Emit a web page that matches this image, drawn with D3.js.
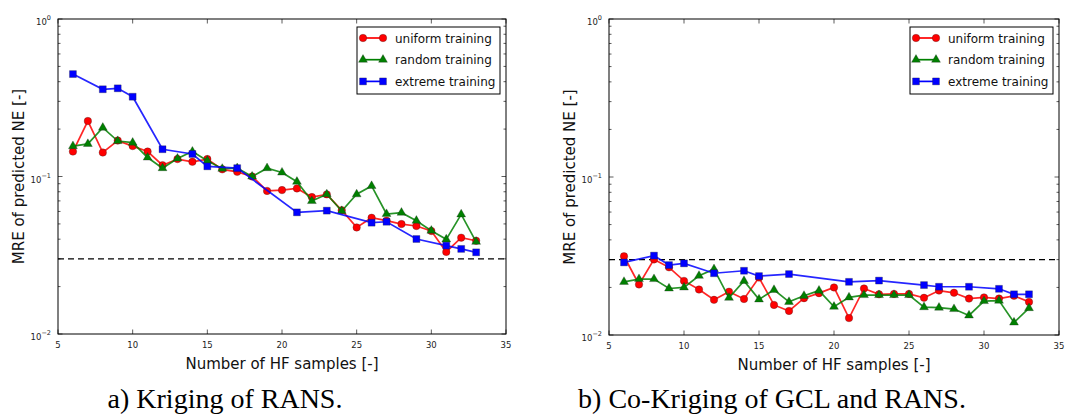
<!DOCTYPE html>
<html lang="en">
<head>
  <meta charset="UTF-8">
  <title>MRE of predicted NE vs number of HF samples</title>
  <script src="https://d3js.org/d3.v7.min.js"></script>
  <style>
    body {
      margin: 0;
      background: white;
    }
    .tick-label {
      font-family: 'DejaVu Sans', sans-serif;
      font-size: 8.5px;
      fill: #222;
    }
    .axis-title {
      font-family: 'DejaVu Sans', sans-serif;
      font-size: 15px;
      fill: #111;
    }
    .legend-text {
      font-family: 'DejaVu Sans', sans-serif;
      font-size: 12px;
      fill: #111;
    }
    .caption {
      font-family: 'Liberation Serif', 'Times New Roman', serif;
      font-size: 28px;
      fill: black;
      text-anchor: middle;
    }
  </style>
</head>
<body>
  <svg width="1078" height="415"></svg>

  <script>
    // x values
    const hfSamples = [6, 7, 8, 9, 10, 11, 12, 13, 14, 15, 16, 17, 18, 19, 20,
      21, 22, 23, 24, 25, 26, 27, 28, 29, 30, 31, 32, 33];
    const extremeSamples = [6, 8, 9, 10, 12, 14, 15, 17, 21, 23, 26, 27, 29, 31, 32, 33];

    // a) Kriging of RANS
    const krigUniform = [0.144, 0.225, 0.142, 0.169, 0.156, 0.144, 0.118, 0.129, 0.124, 0.129,
      0.111, 0.107, 0.100, 0.081, 0.082, 0.084, 0.074, 0.077, 0.061, 0.0475,
      0.0547, 0.0524, 0.0499, 0.0485, 0.0451, 0.0332, 0.0409, 0.0391];
    const krigRandom = [0.156, 0.161, 0.204, 0.168, 0.164, 0.132, 0.113, 0.130, 0.144, 0.126,
      0.112, 0.113, 0.100, 0.113, 0.106, 0.0927, 0.0699, 0.0771, 0.0604, 0.0771,
      0.0871, 0.0578, 0.0589, 0.0524, 0.0453, 0.0399, 0.0575, 0.0385];
    const krigExtreme = [0.447, 0.358, 0.363, 0.321, 0.149, 0.139, 0.116, 0.113,
      0.0592, 0.0607, 0.0509, 0.0516, 0.0401, 0.0364, 0.0347, 0.0330];

    // b) Co-Kriging of GCL and RANS
    const cokrigUniform = [0.0315, 0.0209, 0.0301, 0.0268, 0.0220, 0.0194, 0.0167, 0.0188, 0.0169, 0.0231,
      0.0155, 0.0142, 0.0171, 0.0184, 0.0200, 0.0128, 0.0197, 0.0181, 0.0182, 0.0182,
      0.0172, 0.0191, 0.0185, 0.0170, 0.0173, 0.0170, 0.0177, 0.0162];
    const cokrigRandom = [0.0217, 0.0226, 0.0226, 0.0197, 0.0200, 0.0237, 0.0261, 0.0172, 0.0220, 0.0168,
      0.0193, 0.0162, 0.0177, 0.0191, 0.0151, 0.0173, 0.0179, 0.0179, 0.0179, 0.0179,
      0.0150, 0.0149, 0.0146, 0.0133, 0.0164, 0.0165, 0.0120, 0.0148];
    const cokrigExtreme = [0.0288, 0.0318, 0.0277, 0.0284, 0.0246, 0.0255, 0.0236, 0.0243,
      0.0217, 0.0221, 0.0207, 0.0202, 0.0202, 0.0196, 0.0181, 0.0181];

    const seriesNames = ["uniform training", "random training", "extreme training"];
    const xTicks = [5, 10, 15, 20, 25, 30, 35];
    const yDecades = [-2, -1, 0];
    const threshold = 0.03;
    const captions = ["a) Kriging of RANS.", "b) Co-Kriging of GCL and RANS."];
    const xTitle = "Number of HF samples [-]";
    const yTitle = "MRE of predicted NE [-]";

    const colors = ["#ff0000", "#008000", "#0000ff"];
    const shapes = [d3.symbolCircle, d3.symbolTriangle, d3.symbolSquare];
    const shapeSize = [44, 34, 48];

    const svg = d3.select("svg");

    const panels = [
      {left: 58, right: 506, top: 19, bottom: 334, caption: captions[0], captionX: 225,
        series: [[hfSamples, krigUniform], [hfSamples, krigRandom], [extremeSamples, krigExtreme]]},
      {left: 609, right: 1059, top: 19, bottom: 335, caption: captions[1], captionX: 772,
        series: [[hfSamples, cokrigUniform], [hfSamples, cokrigRandom], [extremeSamples, cokrigExtreme]]}
    ];

    function marker(sel, i) {
      sel.attr("d", d3.symbol().type(shapes[i]).size(shapeSize[i])())
        .attr("fill", colors[i])
        .attr("stroke", "#222")
        .attr("stroke-width", 0.5)
        .attr("stroke-opacity", 0.6);
    }

    panels.forEach(p => {
      const x = d3.scaleLinear().domain([5, 35]).range([p.left, p.right]);
      const y = d3.scaleLog().domain([0.01, 1]).range([p.bottom, p.top]);
      const g = svg.append("g");

      // minor + major y ticks, both sides, pointing inward
      const yMinor = [];
      yDecades.slice(0, -1).forEach(e => {
        for (let k = 2; k <= 9; k++) yMinor.push(k * Math.pow(10, e));
      });
      [[p.left, 1], [p.right, -1]].forEach(([xs, dir]) => {
        g.selectAll(null).data(yMinor).enter().append("line")
          .attr("x1", xs).attr("x2", xs + dir * 2.5)
          .attr("y1", d => y(d)).attr("y2", d => y(d))
          .attr("stroke", "#333").attr("stroke-width", 0.8);
        g.selectAll(null).data(yDecades).enter().append("line")
          .attr("x1", xs).attr("x2", xs + dir * 4.5)
          .attr("y1", d => y(Math.pow(10, d))).attr("y2", d => y(Math.pow(10, d)))
          .attr("stroke", "#333").attr("stroke-width", 0.8);
      });
      // x ticks top and bottom
      [[p.bottom, -1], [p.top, 1]].forEach(([ys, dir]) => {
        g.selectAll(null).data(xTicks).enter().append("line")
          .attr("x1", d => x(d)).attr("x2", d => x(d))
          .attr("y1", ys).attr("y2", ys + dir * 4.5)
          .attr("stroke", "#333").attr("stroke-width", 0.8);
      });

      // tick labels
      g.selectAll(null).data(xTicks).enter().append("text")
        .attr("class", "tick-label")
        .attr("x", d => x(d)).attr("y", p.bottom + 14)
        .attr("text-anchor", "middle")
        .text(d => d);
      const yl = g.selectAll(null).data(yDecades).enter().append("text")
        .attr("class", "tick-label")
        .attr("x", p.left - 7).attr("y", d => y(Math.pow(10, d)) + 6)
        .attr("text-anchor", "end");
      yl.append("tspan").text("10");
      yl.append("tspan").attr("dy", -5).attr("font-size", "6.5px")
        .text(d => String(d).replace("-", "\u2212"));

      // threshold
      g.append("line")
        .attr("x1", p.left).attr("x2", p.right)
        .attr("y1", y(threshold)).attr("y2", y(threshold))
        .attr("stroke", "black").attr("stroke-width", 1.2)
        .attr("stroke-dasharray", "6,4");

      // series
      const line = d3.line().x(d => x(d[0])).y(d => y(d[1]));
      p.series.forEach(([xv, yv], i) => {
        const pts = xv.map((v, j) => [v, yv[j]]);
        g.append("path").datum(pts)
          .attr("d", line)
          .attr("fill", "none")
          .attr("stroke", colors[i])
          .attr("stroke-width", 1.7)
          .attr("stroke-opacity", 0.85);
        g.selectAll(null).data(pts).enter().append("path")
          .attr("transform", d => `translate(${x(d[0])},${y(d[1])})`)
          .call(marker, i);
      });

      // frame
      g.append("rect")
        .attr("x", p.left).attr("y", p.top)
        .attr("width", p.right - p.left).attr("height", p.bottom - p.top)
        .attr("fill", "none").attr("stroke", "black").attr("stroke-width", 1);

      // legend
      const lx = p.right - 149, ly = p.top + 8;
      const leg = g.append("g").attr("transform", `translate(${lx},${ly})`);
      leg.append("rect")
        .attr("width", 143).attr("height", 67)
        .attr("fill", "white").attr("stroke", "black").attr("stroke-width", 1);
      seriesNames.forEach((name, i) => {
        const ry = 11 + i * 21.7;
        leg.append("line")
          .attr("x1", 6).attr("x2", 26).attr("y1", ry).attr("y2", ry)
          .attr("stroke", colors[i]).attr("stroke-width", 1.7);
        [6, 26].forEach(mx => {
          leg.append("path").attr("transform", `translate(${mx},${ry})`).call(marker, i);
        });
        leg.append("text").attr("class", "legend-text")
          .attr("x", 38).attr("y", ry + 4.5)
          .text(name);
      });

      // axis titles
      g.append("text").attr("class", "axis-title")
        .attr("x", (p.left + p.right) / 2).attr("y", p.bottom + 35)
        .attr("text-anchor", "middle")
        .text(xTitle);
      g.append("text").attr("class", "axis-title")
        .attr("transform", `translate(${p.left - 34},${(p.top + p.bottom) / 2}) rotate(-90)`)
        .attr("text-anchor", "middle")
        .text(yTitle);

      svg.append("text").attr("class", "caption")
        .attr("x", p.captionX).attr("y", 408)
        .text(p.caption);
    });
  </script>
</body>
</html>
